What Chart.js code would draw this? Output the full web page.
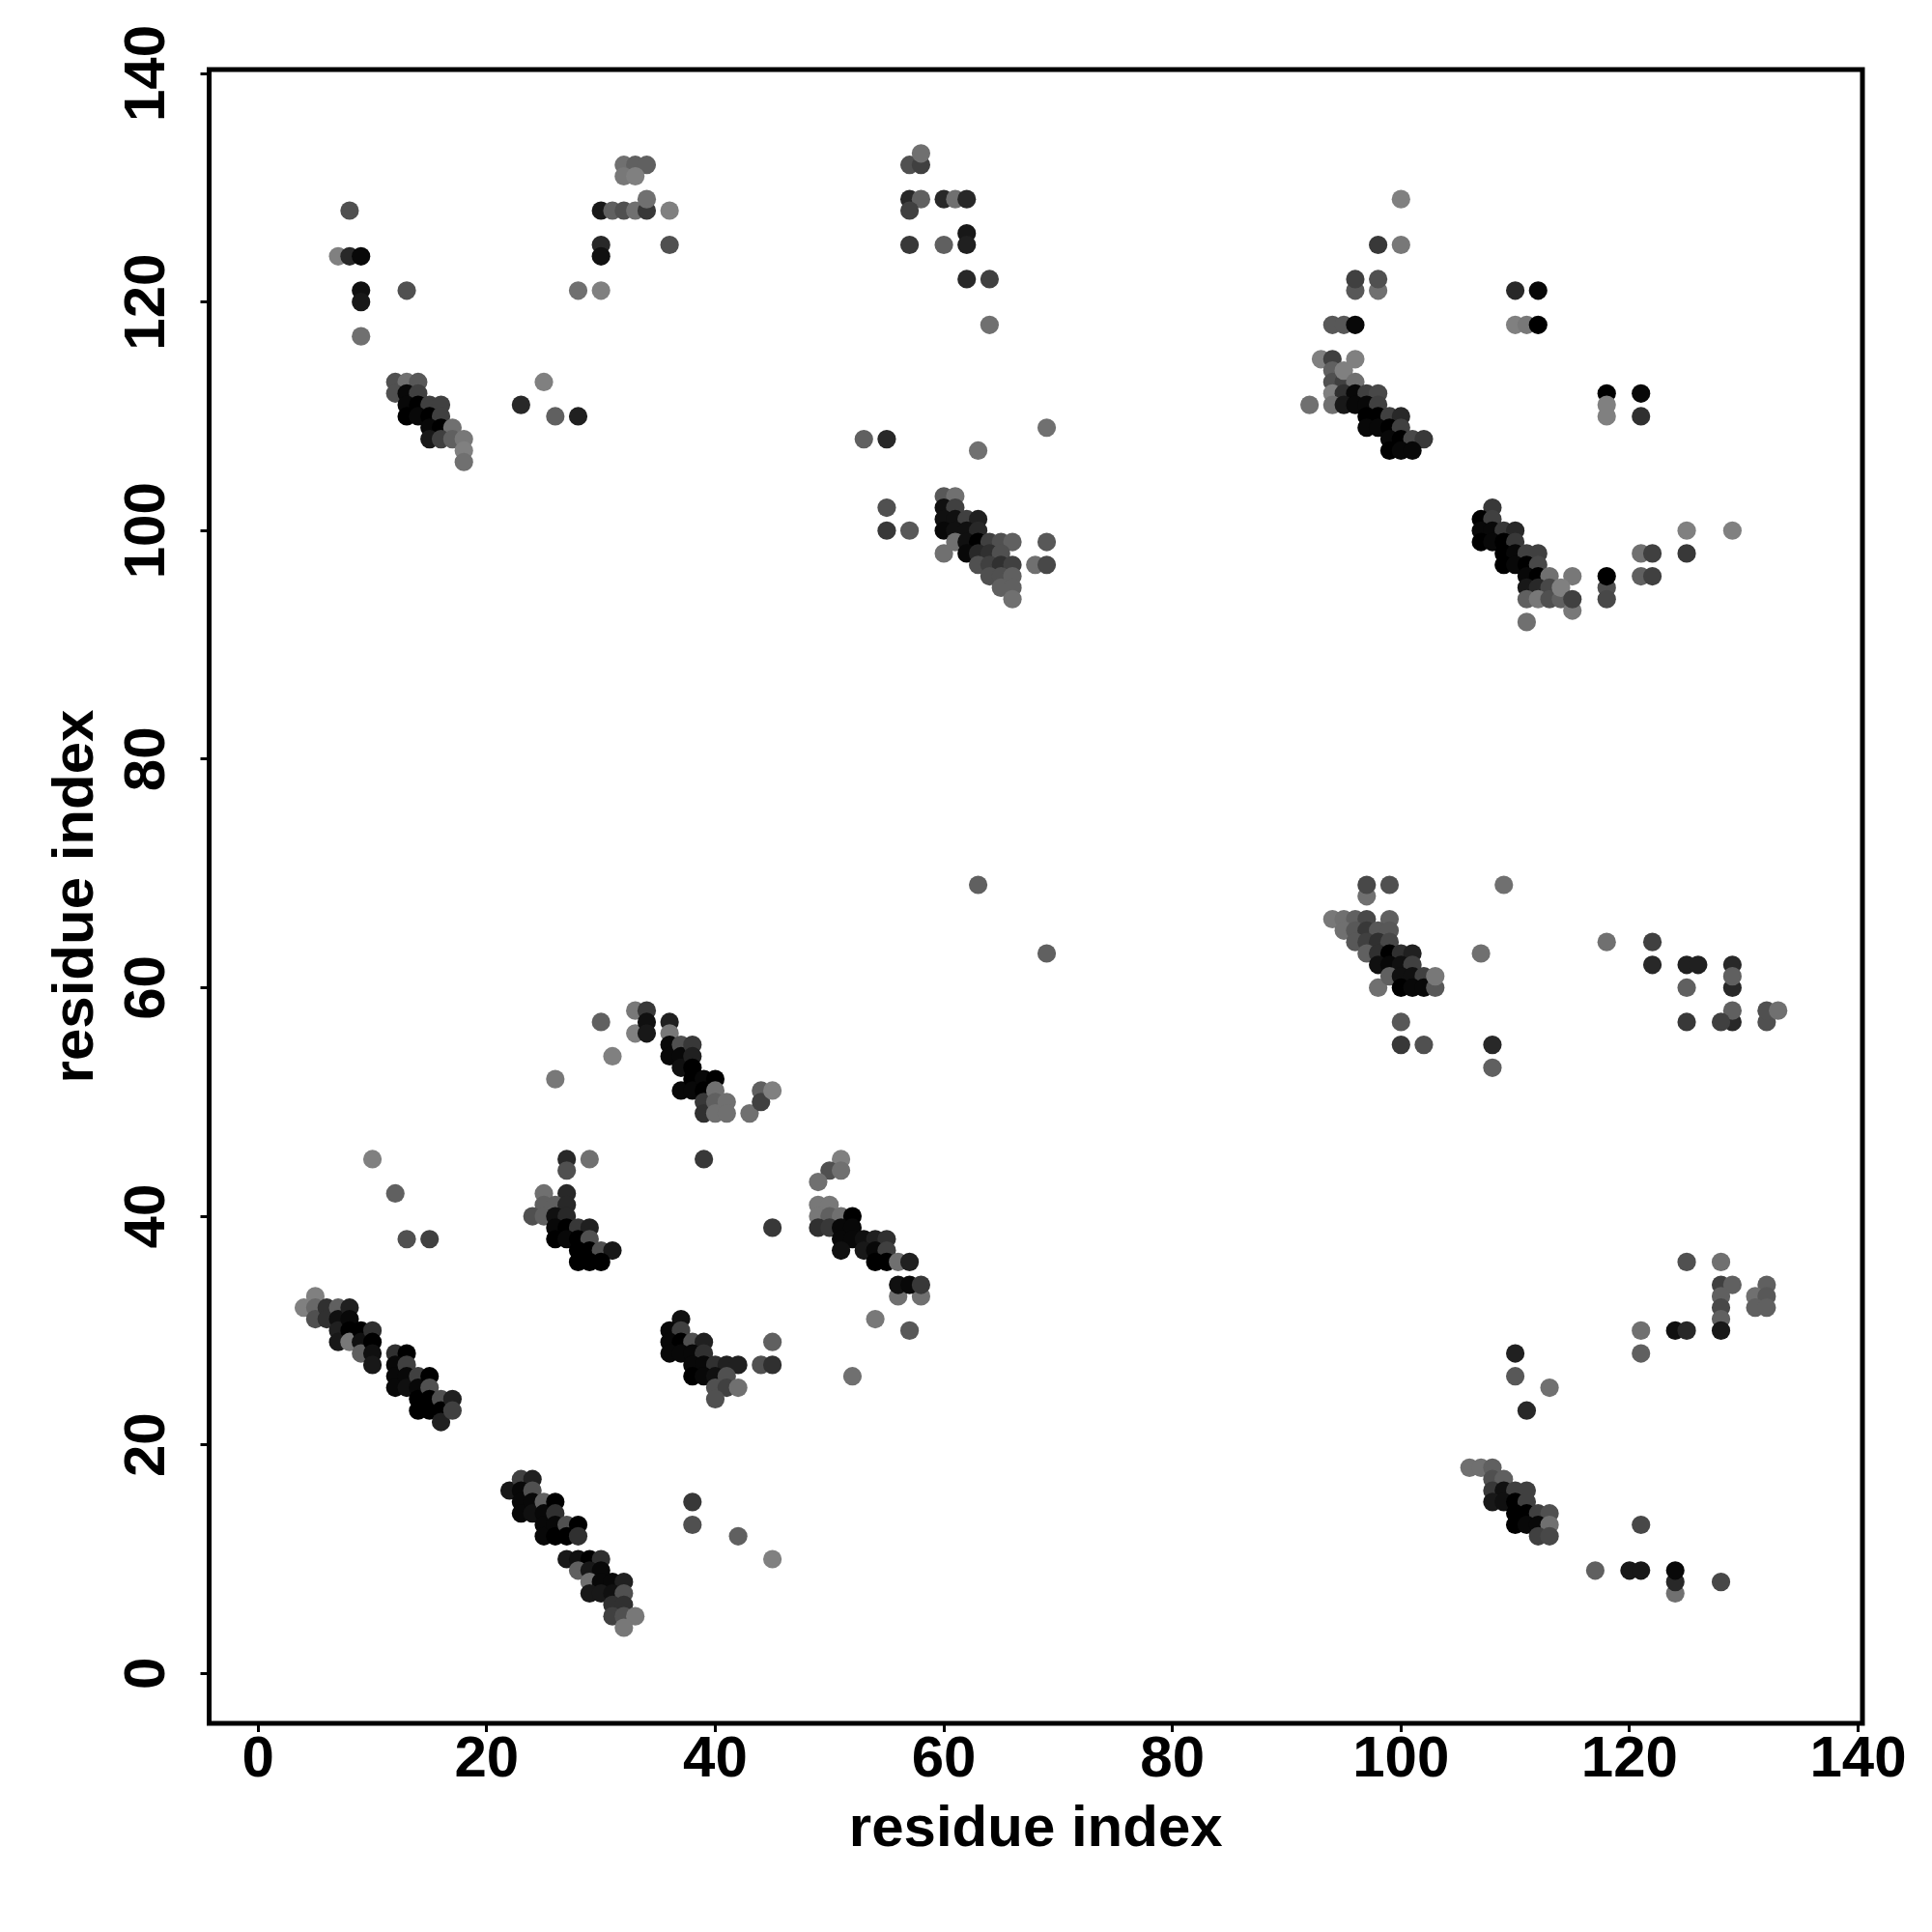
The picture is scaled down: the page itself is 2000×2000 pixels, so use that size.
<!DOCTYPE html>
<html>
<head>
<meta charset="utf-8">
<title>residue contact map</title>
<script src="https://cdn.jsdelivr.net/npm/chart.js@4/dist/chart.umd.min.js"></script>
<style>
  body { margin: 0; background: #fff; }
  canvas { display: block; }
</style>
</head>
<body>
<canvas id="contactMap" width="2000" height="2000"></canvas>
<script>
// Axis ticks
const tickValues = [0, 20, 40, 60, 80, 100, 120, 140];
const axisTitle = 'residue index';

// Contacts as [x residue, y residue, level], level 0 = darkest, 8 = lightest
const lowerLeft = [
  [4,32,8],[5,33,8],[5,32,6.5],[5,31,5],[6,32,3],[6,31,3],[7,32,6],[7,31,1],[7,30,2],[7,29,1.5],
  [8,32,2],[8,31,0.5],[8,30,0],[8,29,7.5],[9,30,0],[9,29,1],[9,28,6],[10,30,3],[10,29,0],[10,28,1],[10,27,1.5],
  [12,28,3],[13,28,0],[12,27,0.5],[12,26,0.5],[12,25,0.5],[13,27,4],[13,26,0.5],[13,25,1],
  [14,26,4],[14,25,0.5],[14,24,0],[14,23,0],[15,26,0],[15,25,5],[15,24,0],[15,23,0],
  [16,24,5],[16,23,0],[16,22,2],[17,24,2],[17,23,4],
  [22,16,1.5],[23,17,4],[24,17,2],[23,16,0.5],[23,15,0.5],[23,14,0.5],[24,16,5],[24,15,0.5],[24,14,1],
  [25,15,6],[25,14,0.5],[25,13,0.5],[25,12,0.5],[26,15,0],[26,14,3],[26,13,0.5],[26,12,0],
  [27,13,5],[27,12,0],[28,13,0],[28,12,3],
  [27,10,1.5],[28,10,1],[29,10,0],[30,10,3],[28,9,6],[29,9,1.5],[30,9,0.5],
  [29,8,7],[30,8,0.5],[31,8,0.5],[32,8,2],[29,7,1.5],[30,7,1.5],[31,7,1],[32,7,5],
  [31,6,3],[32,6,3],[31,5,4],[32,5,5],[33,5,7.5],[32,4,7.5],
  [10,45,8],[12,42,6],[13,38,5],[15,38,4],[38,15,3.5],[38,13,5],[42,12,6],[45,10,8]
];

const lowerMiddle = [
  [26,52,7.5],[30,57,6],[31,54,8],[33,58,7.5],[33,56,8],[34,58,3.5],[34,57,1],[34,56,1.5],
  [36,57,2],[36,56,7.5],[36,55,0.5],[36,54,0.5],[37,55,5],[37,54,0.5],[37,53,1],[37,51,0.5],
  [38,55,3.5],[38,54,2],[38,53,0],[38,52,0],[38,51,0.5],[39,52,0.5],[39,51,0],[39,50,3.5],[39,49,3],
  [40,52,0],[40,51,7],[40,50,6],[40,49,7],[41,50,7],[41,49,7],[43,49,7],[44,51,6],[44,50,4],[45,51,8],
  [39,45,3.5],[27,45,2.5],[29,45,7],[27,44,5],[25,42,7],[27,42,2.5],[25,41,6],[26,41,6],[27,41,2.5],
  [24,40,5],[25,40,6],[26,40,1],[27,40,2.5],[26,39,0.5],[27,39,0],[28,39,3.5],[29,39,2],
  [26,38,0],[27,38,0.5],[28,38,0],[29,38,5],[28,37,0],[29,37,0],[30,37,5],[31,37,1.5],[28,36,0],[29,36,0],[30,36,0],
  [45,39,3.5],[51,45,8],[50,44,5],[51,44,7],[49,43,7],[49,41,7.5],[50,41,7.5],[49,40,7.5],[50,40,6],[51,40,7],[52,40,0],
  [49,39,3],[50,39,3.5],[51,39,0.5],[52,39,0.5],[51,38,0.5],[52,38,0.5],[53,38,1],[54,38,2],[55,38,3],
  [51,37,1],[53,37,1.5],[54,37,0.5],[55,37,4],[54,36,0],[55,36,0],[56,36,7],[57,36,2],
  [56,33,7],[58,33,7],[56,34,1],[57,34,0.5],[58,34,3.5],[54,31,7.5],[57,30,5.5],[52,26,7],
  [37,31,1],[36,30,0.5],[37,30,4],[36,29,0.5],[37,29,0],[38,29,5],[39,29,2],
  [36,28,0.5],[37,28,0.5],[38,28,0.5],[39,28,3],[38,27,0.5],[39,27,0.5],[40,27,3],[41,27,2],[42,27,2],
  [38,26,0],[39,26,0.5],[40,26,1],[41,26,5],[40,25,5],[41,25,4],[42,25,7],[40,24,5],
  [44,27,5],[45,27,3],[45,29,6]
];

const upperLeft = [
  [8,128,5],[7,124,8],[8,124,2.5],[9,124,0.5],[9,121,1],[9,120,1.5],[13,121,5],[9,117,7],
  [12,113,5],[13,113,7],[14,113,5.5],[12,112,5],[13,112,0.5],[14,112,4],
  [13,111,0.5],[14,111,0],[15,111,4],[16,111,4],[13,110,0],[14,110,0.5],[15,110,0],[16,110,4],
  [15,109,0.5],[16,109,0],[17,109,7],[15,108,1.5],[16,108,4],[17,108,6],[18,108,7.5],[18,107,8],[18,106,7],
  [23,111,2.5],[25,113,8],[26,110,6],[28,110,2],[28,121,7],[30,121,8],[30,125,2.5],[30,124,1],
  [30,128,1.5],[31,128,6],[32,128,5],[33,128,7],[34,128,3.5],[34,129,7],[36,128,8],[36,125,5],
  [32,132,7],[33,132,6],[34,132,6],[32,131,7.5],[33,131,8]
];

const upperMiddle = [
  [57,132,5],[58,132,4],[58,133,7],[57,129,2.5],[58,129,6],[57,128,4],[60,129,2.5],[61,129,7],[62,129,2.5],
  [57,125,3.5],[60,125,6],[62,126,1.5],[62,125,2],[62,122,2.5],[64,122,4],[64,118,7],
  [53,108,6],[55,108,2.5],[63,107,7],[69,109,7],[55,102,5],[55,100,3.5],[57,100,5.5],
  [60,103,5.5],[61,103,7],[60,102,1],[61,102,4],[60,101,1],[61,101,1],[62,101,4],[63,101,2],
  [60,100,0.5],[61,100,1],[62,100,1],[63,100,2.5],[60,98,7],[61,99,7],[62,99,1],[63,99,0],[64,99,4],[65,99,5],[66,99,6],
  [62,98,0.5],[63,98,2.5],[64,98,3],[65,98,5],[63,97,5],[64,97,4],[65,97,3],[66,97,4],
  [64,96,5],[65,96,5],[66,96,6],[65,95,6],[66,95,6],[66,94,7],[69,99,5.5],[68,97,7],[69,97,4.5],
  [63,69,6],[69,63,6]
];

const upperRight = [
  [100,129,8],[98,125,3.5],[100,125,7.5],[96,121,5.5],[98,121,7],[96,122,4],[98,122,5],
  [94,118,5.5],[95,118,5.5],[96,118,0.5],[110,121,2.5],[112,121,0.5],[110,118,8],[111,118,7.5],[112,118,0],
  [93,115,8],[94,115,4],[96,115,8],[94,114,6],[94,113,5],[95,113,4],[95,114,8],[96,113,7],
  [94,112,8],[95,112,3],[96,112,0.5],[97,112,4],[98,112,4.5],[92,111,7],[94,111,7],[95,111,1.5],[96,111,0.5],[97,111,0.5],[98,111,4],
  [97,110,0],[98,110,0],[99,110,4],[100,110,2.5],[97,109,0.5],[98,109,0.5],[99,109,0],[100,109,4],
  [99,108,0.5],[100,108,0],[101,108,4.5],[102,108,3.5],[99,107,0],[100,107,0.5],[101,107,0.5],
  [118,112,0],[121,112,0.5],[118,111,8],[118,110,8],[121,110,3],
  [108,102,3.5],[107,101,0],[108,101,4],[107,100,0.5],[108,100,0.5],[109,100,3.5],[110,100,2.5],
  [107,99,0],[108,99,0.5],[109,99,0],[110,99,3.5],[109,98,0],[110,98,0.5],[111,98,4],[112,98,4],
  [109,97,0],[110,97,0.5],[111,97,0],[112,97,4.5],[111,96,0.5],[112,96,0],[113,96,7],[115,96,7.5],
  [111,95,1.5],[112,95,2.5],[113,95,4.5],[111,94,6],[112,94,7.5],[113,94,5],[114,94,6],[114,95,8],[115,93,7.5],[115,94,4],[111,92,7],
  [118,95,5],[118,94,4.5],[118,96,0],[121,98,7],[122,98,4],[121,96,6],[122,96,4],[125,100,8],[129,100,8],[125,98,3.5]
];

const middleRight = [
  [97,68,7],[97,69,4.5],[99,69,5],[109,69,7],[94,66,7.5],[95,66,7],[96,66,6],[97,66,4.5],[99,66,6],
  [95,65,7],[96,65,5.5],[97,65,3.5],[98,65,5.5],[99,65,5.5],[96,64,5.5],[97,64,4],[98,64,3],[99,64,4.5],
  [97,63,6],[98,63,3],[99,63,0],[100,63,3],[101,63,2],[98,62,1],[99,62,0.5],[100,62,1],[101,62,4],
  [98,60,7],[99,61,6],[100,61,1],[101,61,1],[102,61,4],[100,60,0],[101,60,0.5],[102,60,0.5],[103,60,5.5],[103,61,7.5],
  [107,63,7],[100,57,5.5],[100,55,3.5],[102,55,5],[108,55,2.5],[108,53,6],
  [118,64,7],[122,64,4],[122,62,2.5],[125,62,2],[126,62,2],[125,60,6],[129,62,2.5],[129,60,2.5],[129,61,6],
  [129,57,2.5],[129,58,6],[128,57,4],[125,57,3.5],[132,57,5],[132,58,5],[133,58,7]
];

const lowerRight = [
  [125,36,5],[128,36,7],[128,34,4],[129,34,6],[128,33,6],[128,32,4.5],[128,31,6],[128,30,1.5],
  [124,30,1],[125,30,2.5],[121,30,7],[121,28,6],
  [132,34,6],[131,33,7],[132,33,5.5],[131,32,6],[132,32,6],
  [110,28,2],[110,26,5.5],[113,25,7],[111,23,2.5],
  [106,18,7],[107,18,7],[108,18,6],[108,17,5],[109,17,6],[108,16,3.5],[109,16,1],[110,16,4],[111,16,4],
  [108,15,1.5],[109,15,1],[110,15,0],[111,15,4],[110,14,0],[111,14,0],[112,14,4],[113,14,5],
  [110,13,0],[111,13,0.5],[112,13,0.5],[113,13,7],[112,12,4],[113,12,4.5],
  [121,13,4.5],[117,9,6],[120,9,1.5],[121,9,1.5],[124,7,7],[124,8,2.5],[124,9,0.5],[128,8,4.5]
];

const contactBlocks = [lowerLeft, lowerMiddle, upperLeft, upperMiddle, upperRight, middleRight, lowerRight];

// Grey shade for a contact level
function levelColor(level) {
  const g = Math.round(level * 16);
  return `rgb(${g}, ${g}, ${g})`;
}

// Box round the plot area
const framePlugin = {
  id: 'frame',
  afterDatasetsDraw(chart) {
    const { ctx, chartArea } = chart;
    ctx.save();
    ctx.strokeStyle = '#000';
    ctx.lineWidth = 5;
    ctx.strokeRect(chartArea.left, chartArea.top, chartArea.right - chartArea.left, chartArea.bottom - chartArea.top);
    ctx.restore();
  }
};

const labelFont = { family: '"Liberation Sans"', size: 60, weight: 'bold' };

function useTickValues(scale) {
  scale.ticks = tickValues.map(value => ({ value }));
}

new Chart(document.getElementById('contactMap').getContext('2d'), {
  type: 'scatter',
  data: {
    datasets: contactBlocks.map(block => ({
      data: block.map(c => ({ x: c[0], y: c[1] })),
      pointBackgroundColor: block.map(c => levelColor(c[2])),
      pointBorderWidth: 0,
      pointRadius: 9.6,
      pointHoverRadius: 9.6
    }))
  },
  plugins: [framePlugin],
  options: {
    responsive: false,
    animation: false,
    layout: { padding: { top: 72, right: 72, left: 0, bottom: 0 } },
    plugins: { legend: { display: false }, tooltip: { enabled: false } },
    scales: {
      x: {
        type: 'linear',
        min: -4.29,
        max: 140.38,
        afterBuildTicks: useTickValues,
        afterFit(scale) { scale.height = 216; },
        border: { display: false },
        grid: { drawOnChartArea: false, tickLength: 9, tickWidth: 3, tickColor: '#000' },
        ticks: { autoSkip: false, maxRotation: 0, minRotation: 0, padding: -7, color: '#000', font: labelFont },
        title: { display: true, text: axisTitle, color: '#000', font: labelFont, padding: { top: 6, bottom: 70 } }
      },
      y: {
        type: 'linear',
        min: -4.37,
        max: 140.34,
        afterBuildTicks: useTickValues,
        afterFit(scale) { scale.width = 216.5; },
        border: { display: false },
        grid: { drawOnChartArea: false, tickLength: 9, tickWidth: 3, tickColor: '#000' },
        ticks: { autoSkip: false, minRotation: 90, maxRotation: 90, crossAlign: 'center', padding: 4, color: '#000', font: labelFont },
        title: { display: true, text: axisTitle, color: '#000', font: labelFont, padding: { top: 43, bottom: 0 } }
      }
    }
  }
});
</script>
</body>
</html>
